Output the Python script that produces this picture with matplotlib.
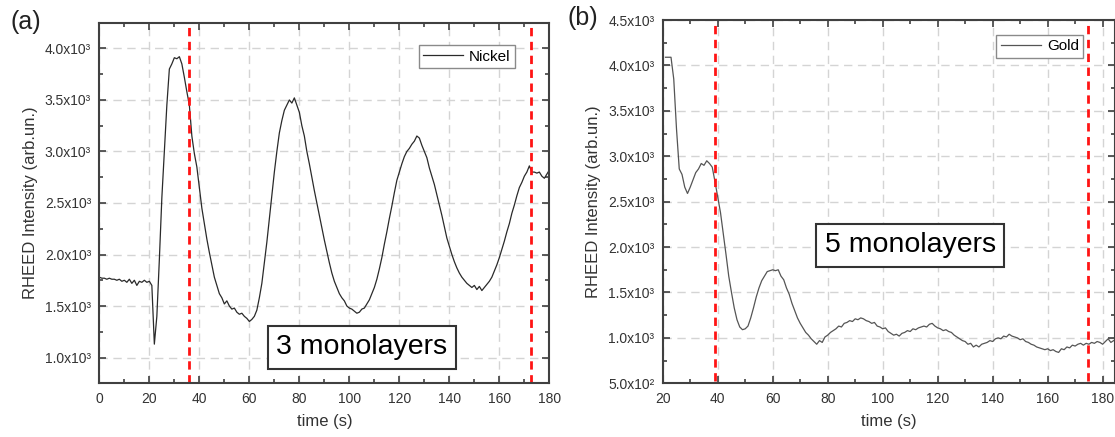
import numpy as np
import matplotlib
matplotlib.use("Agg")
import matplotlib.pyplot as plt
from matplotlib.ticker import MultipleLocator, FuncFormatter

plt.rcParams['font.family'] = ['Liberation Sans', 'DejaVu Sans']

# Nickel, 1 s sampling from 0 to 180 s (x10^3 arb.un.)
nickel_t = np.arange(0, 181)
nickel_i = [1.78, 1.77, 1.77, 1.76, 1.77, 1.76, 1.76, 1.75, 1.76, 1.74,
            1.75, 1.73, 1.76, 1.72, 1.75, 1.70, 1.74, 1.73, 1.75, 1.73,
            1.74, 1.70, 1.13, 1.40, 1.95, 2.55, 3.00, 3.45, 3.80, 3.85,
            3.91, 3.90, 3.92, 3.85, 3.72, 3.58, 3.45, 3.15, 2.98, 2.85,
            2.65, 2.45, 2.30, 2.15, 2.02, 1.90, 1.78, 1.70, 1.62, 1.58,
            1.52, 1.55, 1.50, 1.47, 1.48, 1.44, 1.42, 1.43, 1.40, 1.38,
            1.35, 1.37, 1.40, 1.46, 1.58, 1.72, 1.92, 2.12, 2.35, 2.58,
            2.80, 3.00, 3.18, 3.30, 3.40, 3.45, 3.50, 3.47, 3.52, 3.45,
            3.38, 3.25, 3.15, 3.00, 2.88, 2.75, 2.62, 2.50, 2.38, 2.26,
            2.14, 2.03, 1.92, 1.82, 1.74, 1.68, 1.62, 1.58, 1.55, 1.50,
            1.48, 1.47, 1.45, 1.43, 1.44, 1.47, 1.48, 1.52, 1.56, 1.62,
            1.68, 1.76, 1.86, 1.97, 2.10, 2.22, 2.35, 2.47, 2.60, 2.72,
            2.80, 2.88, 2.95, 3.00, 3.03, 3.07, 3.10, 3.15, 3.13, 3.06,
            3.00, 2.94, 2.84, 2.76, 2.68, 2.58, 2.48, 2.38, 2.27, 2.16,
            2.08, 2.00, 1.93, 1.87, 1.82, 1.78, 1.75, 1.72, 1.70, 1.68,
            1.70, 1.66, 1.69, 1.65, 1.68, 1.71, 1.74, 1.78, 1.84, 1.90,
            1.97, 2.05, 2.13, 2.22, 2.30, 2.40, 2.48, 2.57, 2.65, 2.70,
            2.76, 2.80, 2.86, 2.80, 2.80, 2.79, 2.80, 2.76, 2.74, 2.78,
            2.82]

# Gold, 1 s sampling from 21 to 184 s (x10^3 arb.un.)
gold_t = np.arange(21, 185)
gold_i = [4.09, 4.09, 4.09, 3.85, 3.30, 2.86, 2.80, 2.66, 2.59, 2.66,
          2.74, 2.82, 2.86, 2.92, 2.90, 2.95, 2.92, 2.88, 2.72, 2.55,
          2.38, 2.15, 1.92, 1.68, 1.50, 1.33, 1.20, 1.12, 1.09, 1.10,
          1.13, 1.22, 1.33, 1.45, 1.55, 1.63, 1.68, 1.73, 1.74, 1.75,
          1.74, 1.75, 1.68, 1.64, 1.55, 1.48, 1.38, 1.30, 1.22, 1.16,
          1.11, 1.06, 1.03, 0.99, 0.96, 0.93, 0.97, 0.95, 1.01, 1.03,
          1.06, 1.08, 1.10, 1.13, 1.12, 1.16, 1.17, 1.19, 1.18, 1.21,
          1.20, 1.22, 1.21, 1.19, 1.18, 1.16, 1.17, 1.13, 1.12, 1.10,
          1.11, 1.07, 1.05, 1.03, 1.04, 1.02, 1.05, 1.06, 1.08, 1.07,
          1.10, 1.09, 1.11, 1.12, 1.13, 1.12, 1.15, 1.16, 1.13, 1.11,
          1.10, 1.08, 1.09, 1.07, 1.06, 1.03, 1.01, 0.99, 0.97, 0.96,
          0.93, 0.94, 0.90, 0.92, 0.90, 0.93, 0.94, 0.95, 0.97, 0.96,
          0.99, 1.00, 0.99, 1.02, 1.01, 1.04, 1.02, 1.01, 1.00, 0.98,
          0.99, 0.96, 0.95, 0.93, 0.92, 0.90, 0.89, 0.88, 0.87, 0.88,
          0.86, 0.87, 0.85, 0.84, 0.88, 0.87, 0.90, 0.89, 0.92, 0.91,
          0.93, 0.94, 0.92, 0.94, 0.93, 0.95, 0.94, 0.96, 0.95, 0.93,
          0.96, 0.99, 0.95, 0.97]

nickel_marks = [36, 172.5]
gold_marks = [39, 174.5]

axcol = '#404040'
txtcol = '#333333'


def sci(v, pos):
    if v <= 0:
        return ''
    e = int(np.floor(np.log10(v) + 1e-9))
    sup = {2: '\u00b2', 3: '\u00b3'}[e]
    return '%.1fx10%s' % (v / 10 ** e, sup)


def style(ax, xlim, ylim):
    ax.set_xlim(*xlim)
    ax.set_ylim(*ylim)
    ax.xaxis.set_major_locator(MultipleLocator(20))
    ax.xaxis.set_minor_locator(MultipleLocator(10))
    ax.yaxis.set_major_locator(MultipleLocator(500))
    ax.yaxis.set_minor_locator(MultipleLocator(250))
    ax.yaxis.set_major_formatter(FuncFormatter(sci))
    ax.tick_params(which='both', direction='in', top=True, right=True,
                   color=axcol, labelcolor=txtcol, labelsize=10, width=1.2)
    ax.tick_params(which='major', length=5, pad=6)
    ax.tick_params(which='minor', length=3)
    for s in ax.spines.values():
        s.set_color(axcol)
        s.set_linewidth(1.5)
    ax.grid(True, which='major', color='#d4d4d4', linestyle=(0, (6, 4)), linewidth=1)
    ax.set_axisbelow(True)
    ax.set_xlabel('time (s)', fontsize=12, color=txtcol, labelpad=6)
    ax.set_ylabel('RHEED Intensity (arb.un.)', fontsize=12, color=txtcol, labelpad=5)


fig = plt.figure(figsize=(11.15, 4.37), dpi=100)
ax1 = fig.add_axes([0.0891, 0.1229, 0.4036, 0.8252])
ax2 = fig.add_axes([0.5944, 0.1229, 0.4056, 0.8313])

ax1.plot(nickel_t, np.array(nickel_i) * 1000, color='#2a2a2a', lw=0.9, label='Nickel')
for m in nickel_marks:
    ax1.axvline(m, color='#ff1414', lw=2, linestyle=(0, (3, 2)))
style(ax1, (0, 180), (750, 4250))
ax1.legend(loc='upper right', bbox_to_anchor=(0.924, 0.938), borderaxespad=0,
           fancybox=False, edgecolor='#8a8a8a', fontsize=11, handlelength=2.6,
           borderpad=0.3, handletextpad=0.4, framealpha=1)
ax1.text(105, 1100, '3 monolayers', fontsize=20.5, ha='center', va='center',
         bbox=dict(boxstyle='square,pad=0.3', fc='white', ec='#333333', lw=1.5))

ax2.plot(gold_t, np.array(gold_i) * 1000, color='#555555', lw=0.9, label='Gold')
for m in gold_marks:
    ax2.axvline(m, ymin=0.005, ymax=0.985, color='#ff1414', lw=2, linestyle=(0, (3, 2)))
style(ax2, (20, 184.5), (500, 4500))
ax2.legend(loc='upper right', bbox_to_anchor=(0.930, 0.959), borderaxespad=0,
           fancybox=False, edgecolor='#8a8a8a', fontsize=11, handlelength=2.6,
           borderpad=0.3, handletextpad=0.4, framealpha=1)
ax2.text(110, 2020, '5 monolayers', fontsize=20.5, ha='center', va='center',
         bbox=dict(boxstyle='square,pad=0.3', fc='white', ec='#333333', lw=1.5))

fig.text(0.009, 0.95, '(a)', fontsize=18, color='#222222', va='center')
fig.text(0.509, 0.958, '(b)', fontsize=18, color='#222222', va='center')

fig.savefig('out.png', dpi=100)
